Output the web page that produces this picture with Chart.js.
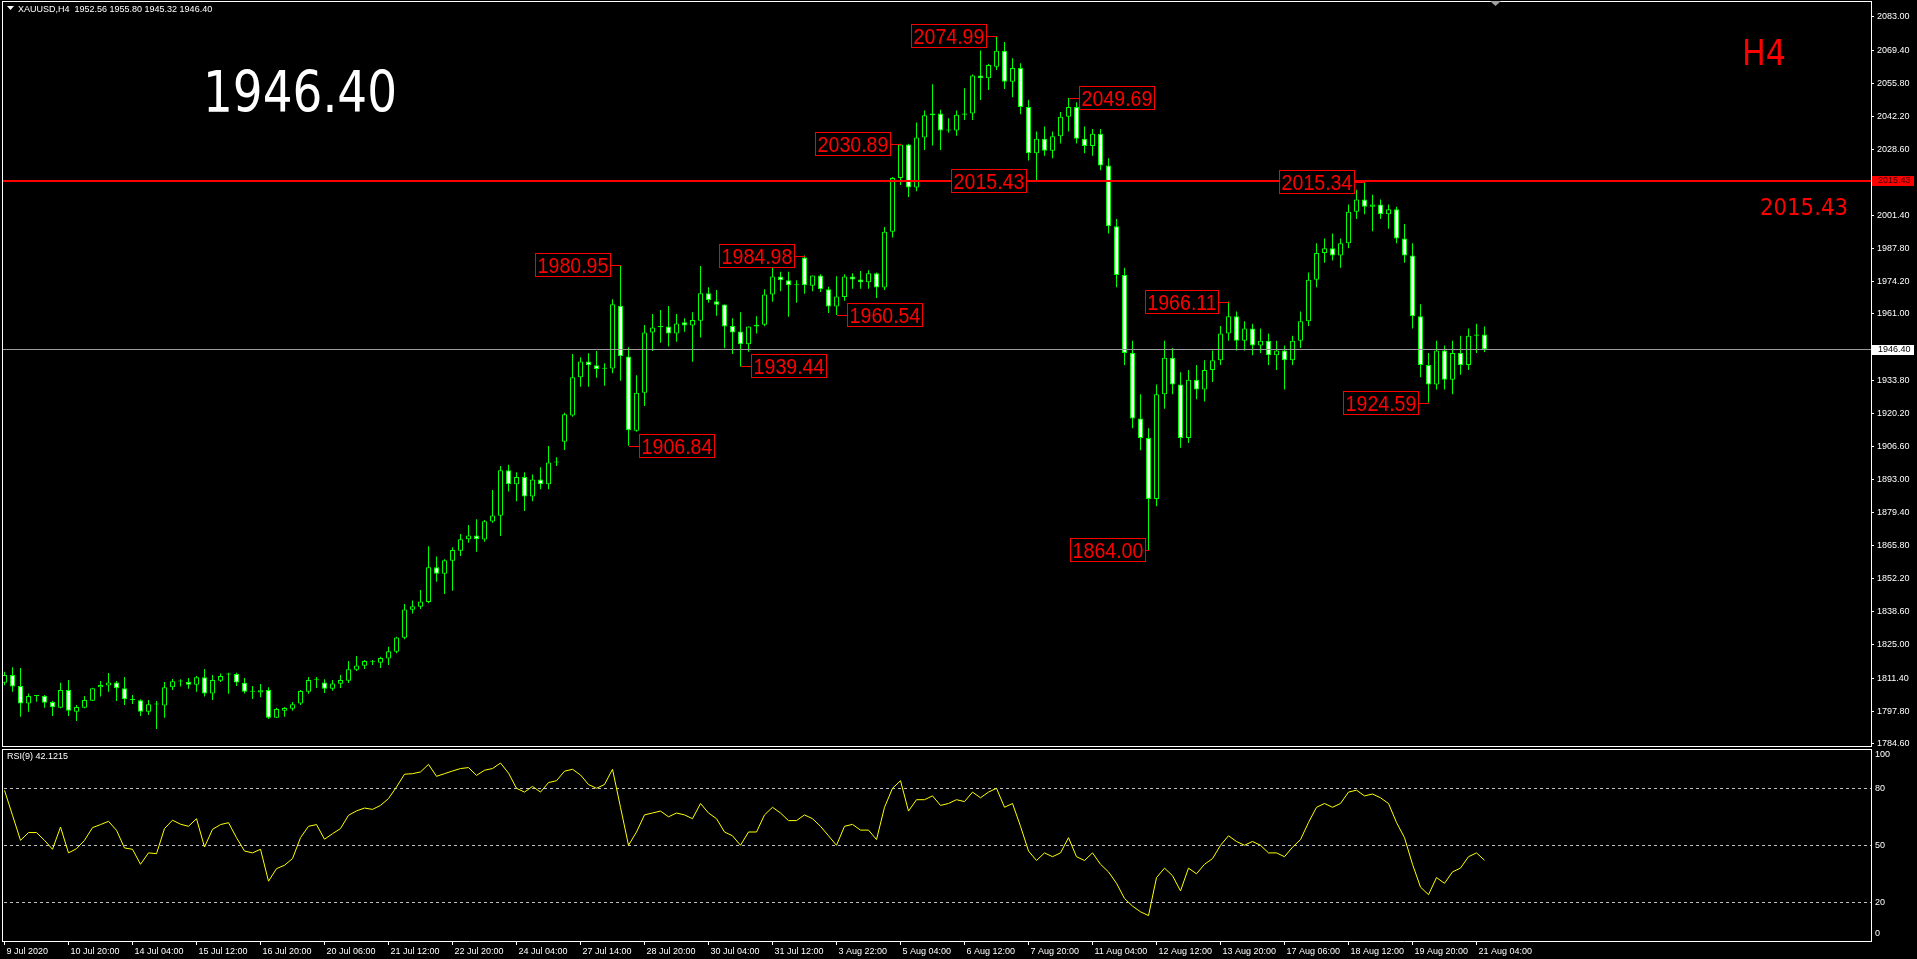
<!DOCTYPE html>
<html><head><meta charset="utf-8">
<script src="https://cdn.jsdelivr.net/npm/chart.js@4.4.1/dist/chart.umd.min.js"></script>
<style>
html,body{margin:0;padding:0;background:#000;overflow:hidden;}
#wrap{position:relative;width:1917px;height:959px;background:#000;}
canvas{position:absolute;left:0;}
#c1{top:0;width:1917px;height:747px;}
#c2{top:747px;width:1917px;height:212px;}
</style></head><body>
<div id="wrap"><canvas id="c1" width="1917" height="747"></canvas><canvas id="c2" width="1917" height="212"></canvas></div>
<script>
const opens=[
1809.5,1812.7,1808.1,1801.0,1804.0,1804.0,1801.6,1799.2,1806.5,1797.6,
1799.2,1802.1,1807.6,1808.3,1809.6,1807.2,1802.4,1802.3,1797.6,1800.5,
1800.1,1807.6,1810.0,1809.8,1808.7,1811.7,1805.1,1810.3,1812.9,1813.1,
1809.5,1805.8,1805.5,1806.5,1795.1,1798.0,1798.8,1800.9,1805.8,1810.7,
1809.6,1807.0,1809.1,1810.3,1814.8,1816.5,1818.1,1817.7,1819.4,1822.2,
1828.0,1839.5,1840.7,1842.7,1856.9,1854.3,1859.6,1863.7,1868.4,1870.0,
1868.3,1875.7,1878.1,1896.8,1891.0,1894.0,1886.0,1893.0,1891.0,1900.0,
1908.5,1919.3,1935.0,1941.5,1939.9,1938.5,1938.6,1964.4,1943.5,1913.0,
1928.6,1953.4,1955.6,1955.8,1953.0,1957.6,1956.2,1958.2,1969.5,1966.2,
1964.9,1956.0,1953.8,1948.5,1955.8,1956.6,1969.0,1976.4,1974.8,1972.8,
1984.2,1972.6,1976.8,1971.1,1964.1,1968.0,1976.4,1975.1,1974.0,1977.7,
1971.9,1994.8,2016.9,2030.6,2012.9,2033.5,2042.6,2043.4,2036.4,2036.4,
2042.8,2043.4,2059.0,2057.8,2062.6,2069.1,2056.4,2062.0,2046.0,2027.0,
2033.0,2028.0,2034.0,2042.0,2046.0,2033.0,2030.0,2035.0,2022.0,1997.0,
1977.0,1945.0,1918.0,1910.0,1885.0,1928.0,1943.0,1932.0,1910.0,1934.0,
1930.0,1938.0,1942.0,1953.0,1960.0,1950.0,1955.0,1948.0,1950.0,1944.0,
1946.0,1942.0,1950.0,1958.0,1975.0,1986.0,1988.0,1985.0,1990.0,2003.0,
2008.0,2005.0,2006.0,2002.0,2004.0,1992.0,1985.0,1960.0,1940.0,1932.0,
1946.0,1934.0,1945.0,1940.0,1952.0,1952.56];
const highs=[
1814.0,1815.8,1815.5,1805.1,1804.4,1804.4,1802.0,1809.5,1810.6,1800.3,
1804.0,1807.4,1810.2,1813.5,1810.2,1811.8,1804.4,1802.7,1802.4,1802.0,
1809.8,1811.0,1810.9,1811.4,1812.3,1815.1,1812.7,1813.3,1813.6,1813.6,
1811.4,1808.1,1809.0,1807.6,1799.2,1799.5,1801.6,1806.5,1811.8,1811.8,
1810.9,1810.6,1812.7,1818.4,1820.5,1818.8,1818.8,1820.2,1824.3,1828.4,
1841.8,1843.3,1847.6,1865.6,1861.3,1860.2,1865.1,1870.6,1874.3,1876.7,
1876.3,1888.7,1898.5,1899.0,1896.0,1896.0,1895.0,1898.0,1906.7,1902.1,
1920.4,1944.5,1943.2,1944.8,1945.8,1940.7,1967.0,1980.95,1947.3,1935.8,
1956.5,1961.0,1962.6,1964.3,1961.0,1959.2,1961.7,1980.7,1972.0,1970.8,
1964.9,1959.2,1961.7,1955.8,1960.0,1971.1,1982.6,1978.3,1978.3,1974.8,
1984.98,1976.8,1977.3,1972.2,1976.5,1977.3,1977.7,1978.6,1979.0,1978.0,
1996.7,2017.3,2030.89,2030.9,2039.7,2044.6,2055.4,2044.9,2041.4,2044.6,
2053.7,2059.4,2069.2,2063.8,2074.99,2072.7,2066.0,2064.0,2049.0,2036.0,
2038.0,2036.0,2044.0,2049.69,2048.0,2038.0,2037.0,2037.0,2025.0,2000.0,
1980.0,1950.0,1928.0,1914.0,1932.0,1950.0,1947.0,1937.0,1938.0,1940.0,
1942.0,1946.0,1956.0,1966.11,1962.0,1958.0,1957.0,1955.0,1953.0,1950.0,
1948.0,1952.0,1962.0,1978.0,1990.0,1992.0,1994.0,1992.0,2006.0,2012.0,
2015.34,2010.0,2008.0,2006.0,2005.0,1998.0,1990.0,1965.0,1945.0,1950.0,
1948.0,1950.0,1952.0,1955.0,1957.0,1955.80];
const lows=[
1808.5,1805.8,1795.5,1797.6,1801.7,1799.2,1795.8,1799.0,1795.8,1793.8,
1799.0,1802.0,1803.8,1805.8,1802.0,1800.3,1800.7,1795.8,1796.2,1790.5,
1795.1,1806.5,1807.9,1807.0,1805.8,1803.8,1802.4,1809.8,1805.0,1808.1,
1805.1,1802.8,1803.5,1794.6,1795.0,1795.5,1798.0,1800.3,1805.0,1807.3,
1805.3,1806.2,1807.3,1809.4,1814.3,1815.1,1816.8,1815.5,1816.8,1821.6,
1827.3,1837.9,1839.8,1842.1,1851.0,1845.9,1847.3,1861.5,1867.0,1863.3,
1867.4,1875.2,1869.8,1888.0,1884.0,1880.0,1884.0,1889.0,1889.0,1898.5,
1905.1,1918.8,1931.1,1931.1,1934.8,1931.5,1936.6,1933.6,1906.84,1912.6,
1923.2,1945.8,1949.2,1947.6,1949.6,1953.7,1941.4,1951.3,1965.6,1960.3,
1946.9,1944.5,1939.44,1945.5,1953.0,1955.9,1966.0,1970.3,1959.8,1965.6,
1969.3,1970.3,1970.0,1961.4,1960.54,1966.4,1971.3,1971.3,1971.3,1967.6,
1970.8,1992.4,2014.0,2009.0,2011.4,2028.4,2030.2,2028.4,2035.4,2034.2,
2040.7,2040.7,2048.9,2053.0,2061.2,2053.4,2050.0,2043.0,2024.0,2015.43,
2026.0,2025.0,2031.0,2036.0,2031.0,2027.0,2026.0,2020.0,1994.0,1972.0,
1940.0,1914.0,1905.0,1864.00,1882.0,1922.0,1928.0,1906.0,1908.0,1926.0,
1925.0,1933.0,1940.0,1950.0,1946.0,1946.0,1944.0,1945.0,1940.0,1938.0,
1930.0,1940.0,1947.0,1956.0,1972.0,1982.0,1983.0,1980.0,1988.0,2000.0,
2002.0,1995.0,2000.0,1996.0,1990.0,1982.0,1955.0,1935.0,1924.59,1930.0,
1930.0,1928.0,1936.0,1938.0,1945.0,1945.32];
const closes=[
1812.7,1807.9,1801.0,1804.0,1804.0,1801.3,1799.4,1806.5,1798.0,1799.5,
1802.4,1807.2,1808.6,1809.6,1807.2,1802.7,1802.4,1797.6,1800.6,1800.5,
1807.6,1810.1,1810.3,1808.7,1811.7,1805.1,1810.6,1812.2,1812.9,1809.6,
1805.8,1805.8,1806.4,1795.1,1798.7,1799.1,1800.6,1806.1,1810.6,1810.7,
1807.0,1809.2,1810.6,1815.0,1816.6,1818.4,1818.1,1819.6,1822.4,1828.1,
1839.6,1840.9,1842.9,1856.9,1854.3,1859.8,1864.0,1868.4,1870.0,1868.4,
1875.8,1878.2,1896.8,1891.0,1894.0,1886.0,1893.0,1891.0,1900.0,1900.0,
1919.8,1935.0,1941.5,1939.9,1938.4,1938.5,1965.0,1943.6,1913.2,1928.6,
1953.4,1955.4,1955.6,1953.0,1957.1,1956.3,1958.5,1969.5,1966.7,1964.8,
1955.8,1953.4,1948.5,1955.8,1956.6,1969.0,1976.4,1974.8,1972.8,1972.8,
1972.8,1976.8,1971.1,1964.1,1968.2,1976.4,1975.1,1974.0,1977.7,1971.9,
1994.8,2016.9,2030.6,2012.9,2033.5,2042.6,2043.4,2036.4,2036.4,2042.8,
2043.4,2059.0,2057.8,2063.3,2069.1,2056.4,2062.0,2046.0,2027.0,2033.0,
2028.0,2034.0,2042.0,2046.0,2033.0,2030.0,2035.0,2022.0,1997.0,1977.0,
1945.0,1918.0,1910.0,1885.0,1928.0,1943.0,1932.0,1910.0,1934.0,1930.0,
1938.0,1942.0,1953.0,1960.0,1950.0,1955.0,1948.0,1950.0,1944.0,1946.0,
1942.0,1950.0,1958.0,1975.0,1986.0,1988.0,1985.0,1990.0,2003.0,2008.0,
2005.0,2006.0,2002.0,2004.0,1992.0,1985.0,1960.0,1940.0,1932.0,1946.0,
1934.0,1945.0,1940.0,1952.0,1952.56,1946.40];
const rsiValues=[
78.9,65.8,52.6,56.7,56.7,52.6,47.9,59.6,46.0,48.2,
52.6,59.3,60.9,62.6,57.9,48.6,47.9,40.0,46.0,45.6,
58.8,63.2,61.1,60.0,64.0,49.1,58.4,60.9,61.9,54.0,
47.0,46.0,47.9,31.1,37.7,39.5,43.0,54.0,60.0,60.9,
53.2,56.1,58.8,65.8,68.1,69.6,68.9,71.0,74.6,80.7,
87.4,87.7,88.6,92.6,86.3,87.7,89.1,90.4,90.9,86.8,
89.5,90.4,93.3,88,80,78,81,78,83,84,
89,90,87,82,80,82,90,70,50,57,
66,67,68,65,67,66,64,72,67,64,
57,55,50,57,57,66,70,67,63,63,
66,64,60,55,50,60,61,58,58,53,
70,80,84,68,74,74,76,71,72,74,
73,78,75,78,80,70,72,60,47,42,
46,44,46,54,44,42,46,40,36,30,
22,18,15,13,33,38,34,26,38,35,
40,43,50,55,52,50,52,50,46,46,
44,49,53,62,70,72,70,72,78,79,
76,77,75,72,62,54,40,28,24,33,
30,36,38,44,46,42.12];
const priceTicks=[2083.00,2069.40,2055.80,2042.20,2028.60,2001.40,1987.80,1974.20,1961.00,1933.80,1920.20,1906.60,1893.00,1879.40,1865.80,1852.20,1838.60,1825.00,1811.40,1797.80,1784.60];
const rsiLevels=[80,50,20];
const rsiAxisLabels=[100,80,50,20,0];
const xTickIdx=[0,8,16,24,32,40,48,56,64,72,80,88,96,104,112,120,128,136,144,152,160,168,176,184];
const xTickLabels=['9 Jul 2020','10 Jul 20:00','14 Jul 04:00','15 Jul 12:00','16 Jul 20:00','20 Jul 06:00','21 Jul 12:00','22 Jul 20:00','24 Jul 04:00','27 Jul 14:00','28 Jul 20:00','30 Jul 04:00','31 Jul 12:00','3 Aug 22:00','5 Aug 04:00','6 Aug 12:00','7 Aug 20:00','11 Aug 04:00','12 Aug 12:00','13 Aug 20:00','17 Aug 06:00','18 Aug 12:00','19 Aug 20:00','21 Aug 04:00'];
const labelIdx=[77,78,92,100,104,112,124,129,133,143,153,170,178];
const labelPrice=[1980.95,1906.84,1939.44,1984.98,1960.54,2030.89,2074.99,2015.43,2049.69,1864.00,1966.11,2015.34,1924.59];
const labelSide=[-1,1,1,-1,1,-1,-1,-1,1,-1,-1,-1,-1];
const labelGap=[10,10,10,10,10,10,10,10,10,3,10,10,10];
const hlinePrice=2015.43;
const bidPrice=1946.40;
const headerText='XAUUSD,H4  1952.56 1955.80 1945.32 1946.40';
const bigPriceText='1946.40';
const tfText='H4';
const rsiTitle='RSI(9) 42.1215';

const X_MIN=-0.3125, X_MAX=233.3125;
const GREEN='#00ff00', RED='#ff0000';
const FONT='"Liberation Sans", Arial, sans-serif';
const FONT2='"DejaVu Sans", Verdana, sans-serif';
Chart.defaults.font.family=FONT;
Chart.defaults.font.size=9;
Chart.defaults.color='#ffffff';

const bodies=opens.map((o,i)=>({x:i,y:[o,closes[i]]}));
const bodyColors=opens.map((o,i)=>closes[i]>o?'#000000':(closes[i]<o?'#ffffff':GREEN));
const wicks=lows.map((l,i)=>({x:i,y:[l,highs[i]]}));

function drawScaledText(ctx,txt,x,y,font,color,targetW,align){
  ctx.save();ctx.font=font;
  const w=ctx.measureText(txt).width;const s=targetW/w;
  ctx.translate(x,y);ctx.scale(s,1);ctx.fillStyle=color;ctx.textAlign=align||'left';ctx.textBaseline='alphabetic';
  ctx.fillText(txt,0,0);ctx.restore();
}

const mainPlugin={
  id:'mainDeco',
  afterDatasetsDraw(chart){
    const ctx=chart.ctx,a=chart.chartArea,xs=chart.scales.x,ys=chart.scales.y;
    ctx.save();
    ctx.beginPath();ctx.rect(a.left,a.top,a.right-a.left,a.bottom-a.top);ctx.clip();
    const yb=Math.round(ys.getPixelForValue(bidPrice));
    ctx.fillStyle='#9a9a9a';ctx.fillRect(a.left,yb,a.right-a.left,1);
    const yr=Math.round(ys.getPixelForValue(hlinePrice));
    ctx.fillStyle=RED;ctx.fillRect(a.left,yr-1,a.right-a.left,2);
    ctx.font='22px '+FONT;
    for(let k=0;k<labelIdx.length;k++){
      const txt=labelPrice[k].toFixed(2);
      const cx=Math.round(xs.getPixelForValue(labelIdx[k]));
      const cy=ys.getPixelForValue(labelPrice[k]);
      const tw=ctx.measureText(txt).width*0.89;
      const bw=Math.round(tw+5),bh=24;
      const g=labelGap[k];
      const bx=labelSide[k]<0?cx-g-bw:cx+g;
      const by=Math.round(cy-12);
      const ly=Math.round(cy);
      ctx.fillStyle=RED;
      if(labelSide[k]<0) ctx.fillRect(bx+bw,ly,cx-(bx+bw),1); else ctx.fillRect(cx,ly,bx-cx,1);
      ctx.fillStyle='#000';ctx.fillRect(bx,by,bw,bh);
      ctx.strokeStyle=RED;ctx.lineWidth=1;ctx.strokeRect(bx+0.5,by+0.5,bw-1,bh-1);
      ctx.save();ctx.translate(bx+bw/2,by+20);ctx.scale(0.89,1);
      ctx.textAlign='center';ctx.textBaseline='alphabetic';ctx.fillStyle=RED;ctx.fillText(txt,0,0);ctx.restore();
    }
    ctx.restore();
  },
  afterDraw(chart){
    const ctx=chart.ctx,a=chart.chartArea,ys=chart.scales.y;
    ctx.save();
    ctx.fillStyle='#ffffff';
    ctx.fillRect(a.left,a.top,a.right-a.left,1);
    ctx.fillRect(a.left,a.bottom,a.right-a.left+1,1);
    ctx.fillRect(a.left,a.top,1,a.bottom-a.top);
    ctx.font='9px '+FONT;ctx.textBaseline='middle';ctx.textAlign='left';
    const yr=Math.round(ys.getPixelForValue(hlinePrice));
    ctx.fillStyle=RED;ctx.fillRect(a.right+1,yr-5,42,10);
    ctx.fillStyle='#3a0000';ctx.fillText(hlinePrice.toFixed(2),a.right+7,yr);
    const yb=Math.round(ys.getPixelForValue(bidPrice));
    ctx.fillStyle='#ffffff';ctx.fillRect(a.right+1,yb-4,42,10);
    ctx.fillStyle='#000000';ctx.fillText(bidPrice.toFixed(2),a.right+7,yb+1);
    ctx.fillStyle='#ffffff';
    ctx.beginPath();ctx.moveTo(7,6);ctx.lineTo(14,6);ctx.lineTo(10.5,10);ctx.closePath();ctx.fill();
    ctx.textBaseline='alphabetic';ctx.fillText(headerText,18,12);
    ctx.fillStyle='#a0a0a0';
    ctx.beginPath();ctx.moveTo(1490,1);ctx.lineTo(1501,1);ctx.lineTo(1495.5,6);ctx.closePath();ctx.fill();
    drawScaledText(ctx,bigPriceText,203,112,'57px '+FONT2,'#ffffff',194,'left');
    drawScaledText(ctx,tfText,1742,65,'35px '+FONT2,RED,44,'left');
    drawScaledText(ctx,hlinePrice.toFixed(2),1760,215,'23px '+FONT2,RED,88,'left');
    ctx.restore();
  }
};

new Chart(document.getElementById('c1'),{
  type:'bar',
  data:{datasets:[
    {type:'bar',data:bodies,backgroundColor:bodyColors,borderColor:GREEN,borderWidth:1,borderSkipped:false,barThickness:5,grouped:false,minBarLength:1,inflateAmount:0,order:0},
    {type:'bar',data:wicks,backgroundColor:GREEN,borderWidth:0,barThickness:1,grouped:false,inflateAmount:0,order:1}
  ]},
  options:{
    responsive:false,animation:false,devicePixelRatio:1,events:[],
    layout:{padding:{left:2,top:1,right:0,bottom:1}},
    plugins:{legend:{display:false},tooltip:{enabled:false}},
    scales:{
      x:{type:'linear',min:X_MIN,max:X_MAX,offset:false,display:false},
      y:{type:'linear',position:'right',min:1783.49,max:2089.57,
        afterBuildTicks:s=>{s.ticks=priceTicks.map(v=>({value:v}));},
        afterFit:s=>{s.width=46;s.paddingTop=0;s.paddingBottom=0;},
        ticks:{color:'#ffffff',font:{size:9},padding:3,autoSkip:false,callback:v=>Number(v).toFixed(2)},
        grid:{drawOnChartArea:false,drawTicks:true,tickLength:3,color:'#ffffff'},
        border:{display:true,color:'#ffffff'}}
    }
  },
  plugins:[mainPlugin]
});

const rsiPlugin={
  id:'rsiDeco',
  beforeDatasetsDraw(chart){
    const ctx=chart.ctx,a=chart.chartArea,ys=chart.scales.y;
    ctx.save();
    ctx.strokeStyle='#c0c0c0';ctx.lineWidth=1;ctx.setLineDash([3,3]);
    rsiLevels.forEach(l=>{const y=Math.round(ys.getPixelForValue(l))+0.5;ctx.beginPath();ctx.moveTo(a.left+2,y);ctx.lineTo(a.right,y);ctx.stroke();});
    ctx.restore();
  },
  afterDraw(chart){
    const ctx=chart.ctx,a=chart.chartArea,ys=chart.scales.y;
    ctx.save();
    ctx.fillStyle='#ffffff';
    ctx.fillRect(a.left,a.top,a.right-a.left,1);
    ctx.fillRect(a.left,a.top,1,a.bottom-a.top);
    ctx.font='9px '+FONT;ctx.textAlign='left';ctx.textBaseline='middle';
    rsiAxisLabels.forEach(l=>{
      let y=ys.getPixelForValue(l);
      y=Math.min(Math.max(y,a.top+6),a.bottom-7);
      ctx.fillText(String(l),a.right+4,y);
    });
    ctx.fillText(rsiTitle,7,10);
    ctx.restore();
  }
};

new Chart(document.getElementById('c2'),{
  type:'line',
  data:{datasets:[{data:rsiValues.map((v,i)=>({x:i,y:v})),borderColor:'#ffff00',borderWidth:1,pointRadius:0,tension:0,fill:false}]},
  options:{
    responsive:false,animation:false,devicePixelRatio:1,events:[],
    layout:{padding:{left:2,top:2,right:0,bottom:0}},
    plugins:{legend:{display:false},tooltip:{enabled:false}},
    scales:{
      x:{type:'linear',min:X_MIN,max:X_MAX,offset:false,
        afterBuildTicks:s=>{s.ticks=xTickIdx.map(v=>({value:v}));},
        afterFit:s=>{s.height=18;s.paddingLeft=0;s.paddingRight=0;},
        ticks:{color:'#ffffff',font:{size:9},autoSkip:false,maxRotation:0,minRotation:0,align:'start',labelOffset:2,padding:1,callback:(v,i)=>xTickLabels[i]},
        grid:{drawOnChartArea:false,drawTicks:true,tickLength:4,color:'#ffffff'},
        border:{display:true,color:'#ffffff'}},
      y:{type:'linear',position:'right',min:-0.37,max:100.68,
        afterFit:s=>{s.width=46;s.paddingTop=0;s.paddingBottom=0;},
        ticks:{display:false},grid:{display:false},
        border:{display:true,color:'#ffffff'}}
    }
  },
  plugins:[rsiPlugin]
});
</script>
</body></html>
